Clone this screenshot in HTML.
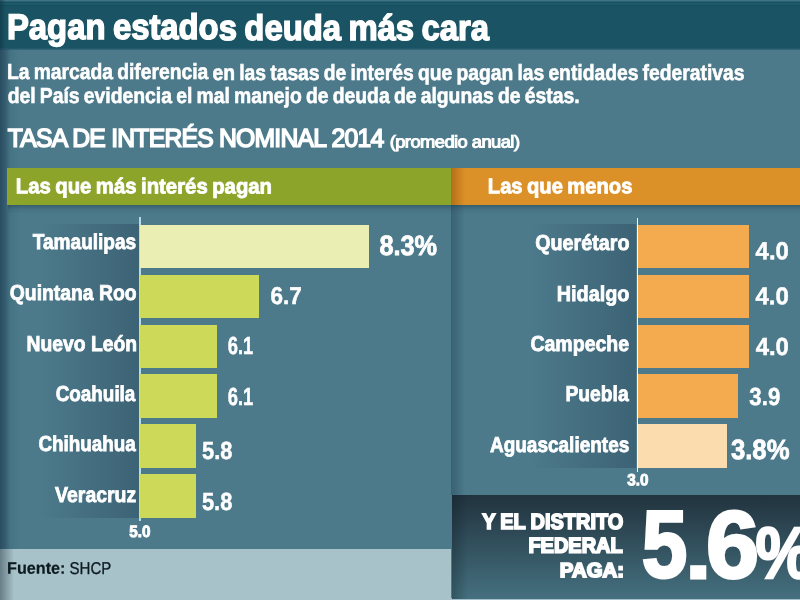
<!DOCTYPE html>
<html lang="es">
<head>
<meta charset="utf-8">
<title>Pagan estados deuda más cara</title>
<style>
html,body{margin:0;padding:0;}
body{width:800px;height:600px;overflow:hidden;background:#4c7a8b;font-family:"Liberation Sans",sans-serif;}
#g{position:relative;width:800px;height:600px;overflow:hidden;background:#4c7a8b;}
#g div{position:absolute;}
.t{position:absolute;left:0;top:0;margin:0;line-height:1.2;white-space:nowrap;transform-origin:0 0;display:block;}
.g{display:inline-block;transform-origin:0 0;}
.bl{background:#cdd958;}
.bo{background:#f4ab50;}
</style>
</head>
<body>
<div id="g">
<!-- title bar -->
<div style="left:0;top:0;width:800px;height:49px;background:#1a5464;"></div>
<div style="left:0;top:0;width:800px;height:7px;background:linear-gradient(180deg,#3f7486 0,#3f7486 1px,#154f60 2px,#1e5969 3.5px,#1e5969 4.5px,#154f60 5.5px,#1a5464 7px);"></div>
<div style="left:0;top:48px;width:800px;height:2px;background:linear-gradient(180deg,#1a5464,#3a6b7e);"></div>
<!-- left edge shadow -->
<div style="left:0;top:0;width:6px;height:49px;background:linear-gradient(90deg,rgba(10,40,55,.45),rgba(10,40,55,0));"></div>
<div style="left:0;top:49px;width:20px;height:500px;background:linear-gradient(90deg,rgba(28,60,82,.72) 0,rgba(28,60,82,.5) 5px,rgba(40,90,100,.22) 10px,rgba(40,90,100,0) 20px);"></div>
<!-- header bars -->
<div style="left:7px;top:167.8px;width:444px;height:36.8px;background:#8da42b;"></div>
<div style="left:451px;top:167.8px;width:349px;height:36.8px;background:#dc9028;"></div>
<div style="left:451px;top:167.8px;width:14px;height:36.8px;background:linear-gradient(90deg,rgba(120,60,0,.4),rgba(120,60,0,0));"></div>
<!-- panel separator shadow -->
<div style="left:451px;top:205px;width:14px;height:290px;background:linear-gradient(90deg,rgba(20,50,70,.35),rgba(20,50,70,0));"></div>
<!-- under header shadow -->
<div style="left:8px;top:204.5px;width:792px;height:9px;background:linear-gradient(180deg,rgba(20,50,70,.4),rgba(20,50,70,.12) 4px,rgba(20,50,70,0));"></div>
<!-- label shadows -->
<div style="left:40px;top:224.3px;width:98.8px;height:293.5px;background:linear-gradient(90deg,rgba(20,40,60,0),rgba(20,40,60,.28));"></div>
<div style="left:530px;top:224.3px;width:106.4px;height:243.5px;background:linear-gradient(90deg,rgba(20,40,60,0),rgba(20,40,60,.28));"></div>
<!-- axes -->
<div style="left:138.8px;top:217px;width:2px;height:304.2px;background:#b4dbe9;"></div>
<div style="left:636.7px;top:217.6px;width:1.8px;height:254.6px;background:#f4fbfd;"></div>
<!-- left bars -->
<div style="left:139.8px;top:224.5px;width:229.7px;height:43.2px;background:#ebeeb2;"></div>
<div class="bl" style="left:139.8px;top:274.5px;width:119.0px;height:43.5px;"></div>
<div class="bl" style="left:139.8px;top:324.6px;width:77.2px;height:43.1px;"></div>
<div class="bl" style="left:139.8px;top:374.2px;width:77.2px;height:43.5px;"></div>
<div class="bl" style="left:139.8px;top:424.3px;width:55.8px;height:43.4px;"></div>
<div class="bl" style="left:139.8px;top:474.3px;width:55.8px;height:43.5px;"></div>
<!-- right bars -->
<div class="bo" style="left:638.2px;top:224.5px;width:110.6px;height:43.2px;"></div>
<div class="bo" style="left:638.2px;top:274.5px;width:110.6px;height:43.5px;"></div>
<div class="bo" style="left:638.2px;top:324.6px;width:110.6px;height:43.1px;"></div>
<div class="bo" style="left:638.2px;top:374.2px;width:99.6px;height:43.5px;"></div>
<div style="left:638.2px;top:424.3px;width:88.4px;height:43.4px;background:#fbdcae;"></div>
<!-- footer -->
<div style="left:0;top:548.8px;width:451px;height:51.2px;background:#a8c2ca;"></div>
<div style="left:0;top:548.8px;width:14px;height:51.2px;background:linear-gradient(90deg,rgba(60,80,90,.6),rgba(60,80,90,0));"></div>
<!-- dark box -->
<div style="left:451px;top:598px;width:349px;height:2px;background:#a3c0ca;"></div>
<div style="left:452px;top:494.5px;width:348px;height:104px;background:linear-gradient(180deg,#21333e,#45707f);"></div>
<div style="left:452px;top:494.5px;width:16px;height:104px;background:linear-gradient(90deg,rgba(10,25,35,.3),rgba(10,25,35,0));"></div>
<h1 class="t" style="font-size:35.69px;font-weight:700;color:#fff;transform:translate(6.98px,6.39px) rotate(0.03deg) scaleX(0.9197);word-spacing:-0.05em;-webkit-text-stroke:1.5px #fff;">Pagan estados deuda más cara</h1>
<p class="t" style="font-size:21.86px;font-weight:700;color:#fff;transform:translate(7.00px,59.40px) rotate(0.03deg) scaleX(0.8822);word-spacing:-0.06em;-webkit-text-stroke:0.6px #fff;">La marcada diferencia en las tasas de interés que pagan las entidades federativas</p>
<p class="t" style="font-size:21.86px;font-weight:700;color:#fff;transform:translate(7.66px,83.12px) rotate(0.03deg) scaleX(0.8847);word-spacing:-0.06em;-webkit-text-stroke:0.6px #fff;">del País evidencia el mal manejo de deuda de algunas de éstas.</p>
<div class="t"><span class="g" style="font-size:25.90px;font-weight:400;color:#fff;transform:translate(7.85px,122.69px) rotate(0.03deg) scaleX(0.9530);letter-spacing:-0.03em;-webkit-text-stroke:1.6px #fff;">TASA DE INTERÉS NOMINAL 2014</span> <small class="g" style="font-size:16.96px;font-weight:400;color:#fff;transform:translate(-9.35px,123.47px) rotate(0.03deg) scaleX(1.0825);letter-spacing:-0.03em;-webkit-text-stroke:1.0px #fff;">(promedio anual)</small></div>
<h3 class="t" style="font-size:21.36px;font-weight:700;color:#fff;transform:translate(15.80px,174.30px) rotate(0.03deg) scaleX(0.9523);word-spacing:-0.06em;-webkit-text-stroke:0.8px #fff;">Las que más interés pagan</h3>
<h3 class="t" style="font-size:21.36px;font-weight:700;color:#fff;transform:translate(487.80px,174.29px) rotate(0.03deg) scaleX(0.9455);word-spacing:-0.06em;-webkit-text-stroke:0.8px #fff;">Las que menos</h3>
<span class="t" style="font-size:21.63px;font-weight:700;color:#fff;transform:translate(32.75px,229.29px) rotate(0.03deg) scaleX(0.8817);-webkit-text-stroke:0.8px #fff;">Tamaulipas</span>
<span class="t" style="font-size:21.63px;font-weight:700;color:#fff;transform:translate(9.79px,279.90px) rotate(0.03deg) scaleX(0.8947);-webkit-text-stroke:0.8px #fff;">Quintana Roo</span>
<span class="t" style="font-size:21.63px;font-weight:700;color:#fff;transform:translate(26.57px,330.69px) rotate(0.03deg) scaleX(0.8921);-webkit-text-stroke:0.8px #fff;">Nuevo León</span>
<span class="t" style="font-size:21.64px;font-weight:700;color:#fff;transform:translate(55.68px,380.96px) rotate(0.03deg) scaleX(0.8727);-webkit-text-stroke:0.8px #fff;">Coahuila</span>
<span class="t" style="font-size:21.64px;font-weight:700;color:#fff;transform:translate(38.40px,431.15px) rotate(0.03deg) scaleX(0.8718);-webkit-text-stroke:0.8px #fff;">Chihuahua</span>
<span class="t" style="font-size:21.63px;font-weight:700;color:#fff;transform:translate(55.13px,482.08px) rotate(0.03deg) scaleX(0.8990);-webkit-text-stroke:0.8px #fff;">Veracruz</span>
<span class="t" style="font-size:21.63px;font-weight:700;color:#fff;transform:translate(535.20px,229.95px) rotate(0.03deg) scaleX(0.9125);-webkit-text-stroke:0.8px #fff;">Querétaro</span>
<span class="t" style="font-size:21.63px;font-weight:700;color:#fff;transform:translate(556.70px,280.95px) rotate(0.03deg) scaleX(0.9168);-webkit-text-stroke:0.8px #fff;">Hidalgo</span>
<span class="t" style="font-size:21.63px;font-weight:700;color:#fff;transform:translate(530.40px,331.14px) rotate(0.03deg) scaleX(0.9030);-webkit-text-stroke:0.8px #fff;">Campeche</span>
<span class="t" style="font-size:21.63px;font-weight:700;color:#fff;transform:translate(565.46px,381.25px) rotate(0.03deg) scaleX(0.8911);-webkit-text-stroke:0.8px #fff;">Puebla</span>
<span class="t" style="font-size:21.63px;font-weight:700;color:#fff;transform:translate(489.93px,431.63px) rotate(0.03deg) scaleX(0.8784);-webkit-text-stroke:0.8px #fff;">Aguascalientes</span>
<span class="t" style="font-size:27.89px;font-weight:700;color:#fff;transform:translate(379.40px,229.31px) rotate(0.03deg) scaleX(0.9079);-webkit-text-stroke:0.8px #fff;">8.3%</span>
<span class="t" style="font-size:24.25px;font-weight:700;color:#fff;transform:translate(270.52px,280.62px) rotate(0.03deg) scaleX(0.9260);-webkit-text-stroke:0.5px #fff;">6.7</span>
<span class="t" style="font-size:24.66px;font-weight:700;color:#fff;transform:translate(227.83px,331.00px) rotate(0.03deg) scaleX(0.7416);-webkit-text-stroke:0.5px #fff;">6.1</span>
<span class="t" style="font-size:24.66px;font-weight:700;color:#fff;transform:translate(227.81px,381.64px) rotate(0.03deg) scaleX(0.7416);-webkit-text-stroke:0.5px #fff;">6.1</span>
<span class="t" style="font-size:24.66px;font-weight:700;color:#fff;transform:translate(202.01px,436.07px) rotate(0.03deg) scaleX(0.8862);-webkit-text-stroke:0.5px #fff;">5.8</span>
<span class="t" style="font-size:24.66px;font-weight:700;color:#fff;transform:translate(201.93px,486.95px) rotate(0.03deg) scaleX(0.8862);-webkit-text-stroke:0.5px #fff;">5.8</span>
<span class="t" style="font-size:24.66px;font-weight:700;color:#fff;transform:translate(755.63px,236.31px) rotate(0.03deg) scaleX(0.9692);-webkit-text-stroke:0.5px #fff;">4.0</span>
<span class="t" style="font-size:24.24px;font-weight:700;color:#fff;transform:translate(755.46px,281.18px) rotate(0.03deg) scaleX(0.9893);-webkit-text-stroke:0.5px #fff;">4.0</span>
<span class="t" style="font-size:24.66px;font-weight:700;color:#fff;transform:translate(755.64px,331.95px) rotate(0.03deg) scaleX(0.9692);-webkit-text-stroke:0.5px #fff;">4.0</span>
<span class="t" style="font-size:24.66px;font-weight:700;color:#fff;transform:translate(749.38px,381.62px) rotate(0.03deg) scaleX(0.9012);-webkit-text-stroke:0.5px #fff;">3.9</span>
<span class="t" style="font-size:27.80px;font-weight:700;color:#fff;transform:translate(730.95px,432.68px) rotate(0.03deg) scaleX(0.9245);-webkit-text-stroke:0.8px #fff;">3.8%</span>
<span class="t" style="font-size:16.45px;font-weight:700;color:#fff;transform:translate(129.24px,522.35px) rotate(0.03deg) scaleX(0.9276);-webkit-text-stroke:0.9px #fff;">5.0</span>
<span class="t" style="font-size:16.25px;font-weight:700;color:#fff;transform:translate(627.23px,470.29px) rotate(0.03deg) scaleX(0.9426);-webkit-text-stroke:0.9px #fff;">3.0</span>
<div class="t"><b class="g" style="font-size:16.86px;font-weight:700;color:#0d1a20;transform:translate(7.00px,558.75px) rotate(0.03deg) scaleX(0.9614);-webkit-text-stroke:0.2px #0d1a20;">Fuente:</b> <span class="g" style="font-size:17.07px;font-weight:400;color:#0d1a20;transform:translate(4.57px,558.65px) rotate(0.03deg) scaleX(0.8813);-webkit-text-stroke:0.3px #0d1a20;">SHCP</span></div>
<span class="t" style="font-size:21.86px;font-weight:700;color:#fff;transform:translate(482.14px,509.17px) rotate(0.03deg) scaleX(0.9132);word-spacing:-0.02em;-webkit-text-stroke:1.7px #fff;">Y EL DISTRITO</span>
<span class="t" style="font-size:21.36px;font-weight:700;color:#fff;transform:translate(528.39px,533.56px) rotate(0.03deg) scaleX(0.9353);-webkit-text-stroke:1.8px #fff;">FEDERAL</span>
<span class="t" style="font-size:20.29px;font-weight:700;color:#fff;transform:translate(559.87px,557.88px) rotate(0.03deg) scaleX(1.0040);-webkit-text-stroke:1.8px #fff;">PAGA:</span>
<div class="t"><span class="g" style="font-size:95.34px;font-weight:700;color:#fff;transform:translate(641.81px,487.30px) rotate(0.03deg) scaleX(0.8583);-webkit-text-stroke:3px #fff;">5</span><span class="g" style="font-size:82.85px;font-weight:700;color:#fff;transform:translate(631.80px,488.45px) rotate(0.03deg) scaleX(1.1740);-webkit-text-stroke:2px #fff;">.</span><span class="g" style="font-size:95.41px;font-weight:700;color:#fff;transform:translate(630.08px,487.54px) rotate(0.03deg) scaleX(0.9990);-webkit-text-stroke:3px #fff;">6</span><span class="g" style="font-size:72.53px;font-weight:700;color:#fff;transform:translate(626.46px,487.51px) rotate(0.03deg) scaleX(0.8723);-webkit-text-stroke:2.5px #fff;">%</span></div>
</div>
</body>
</html>
